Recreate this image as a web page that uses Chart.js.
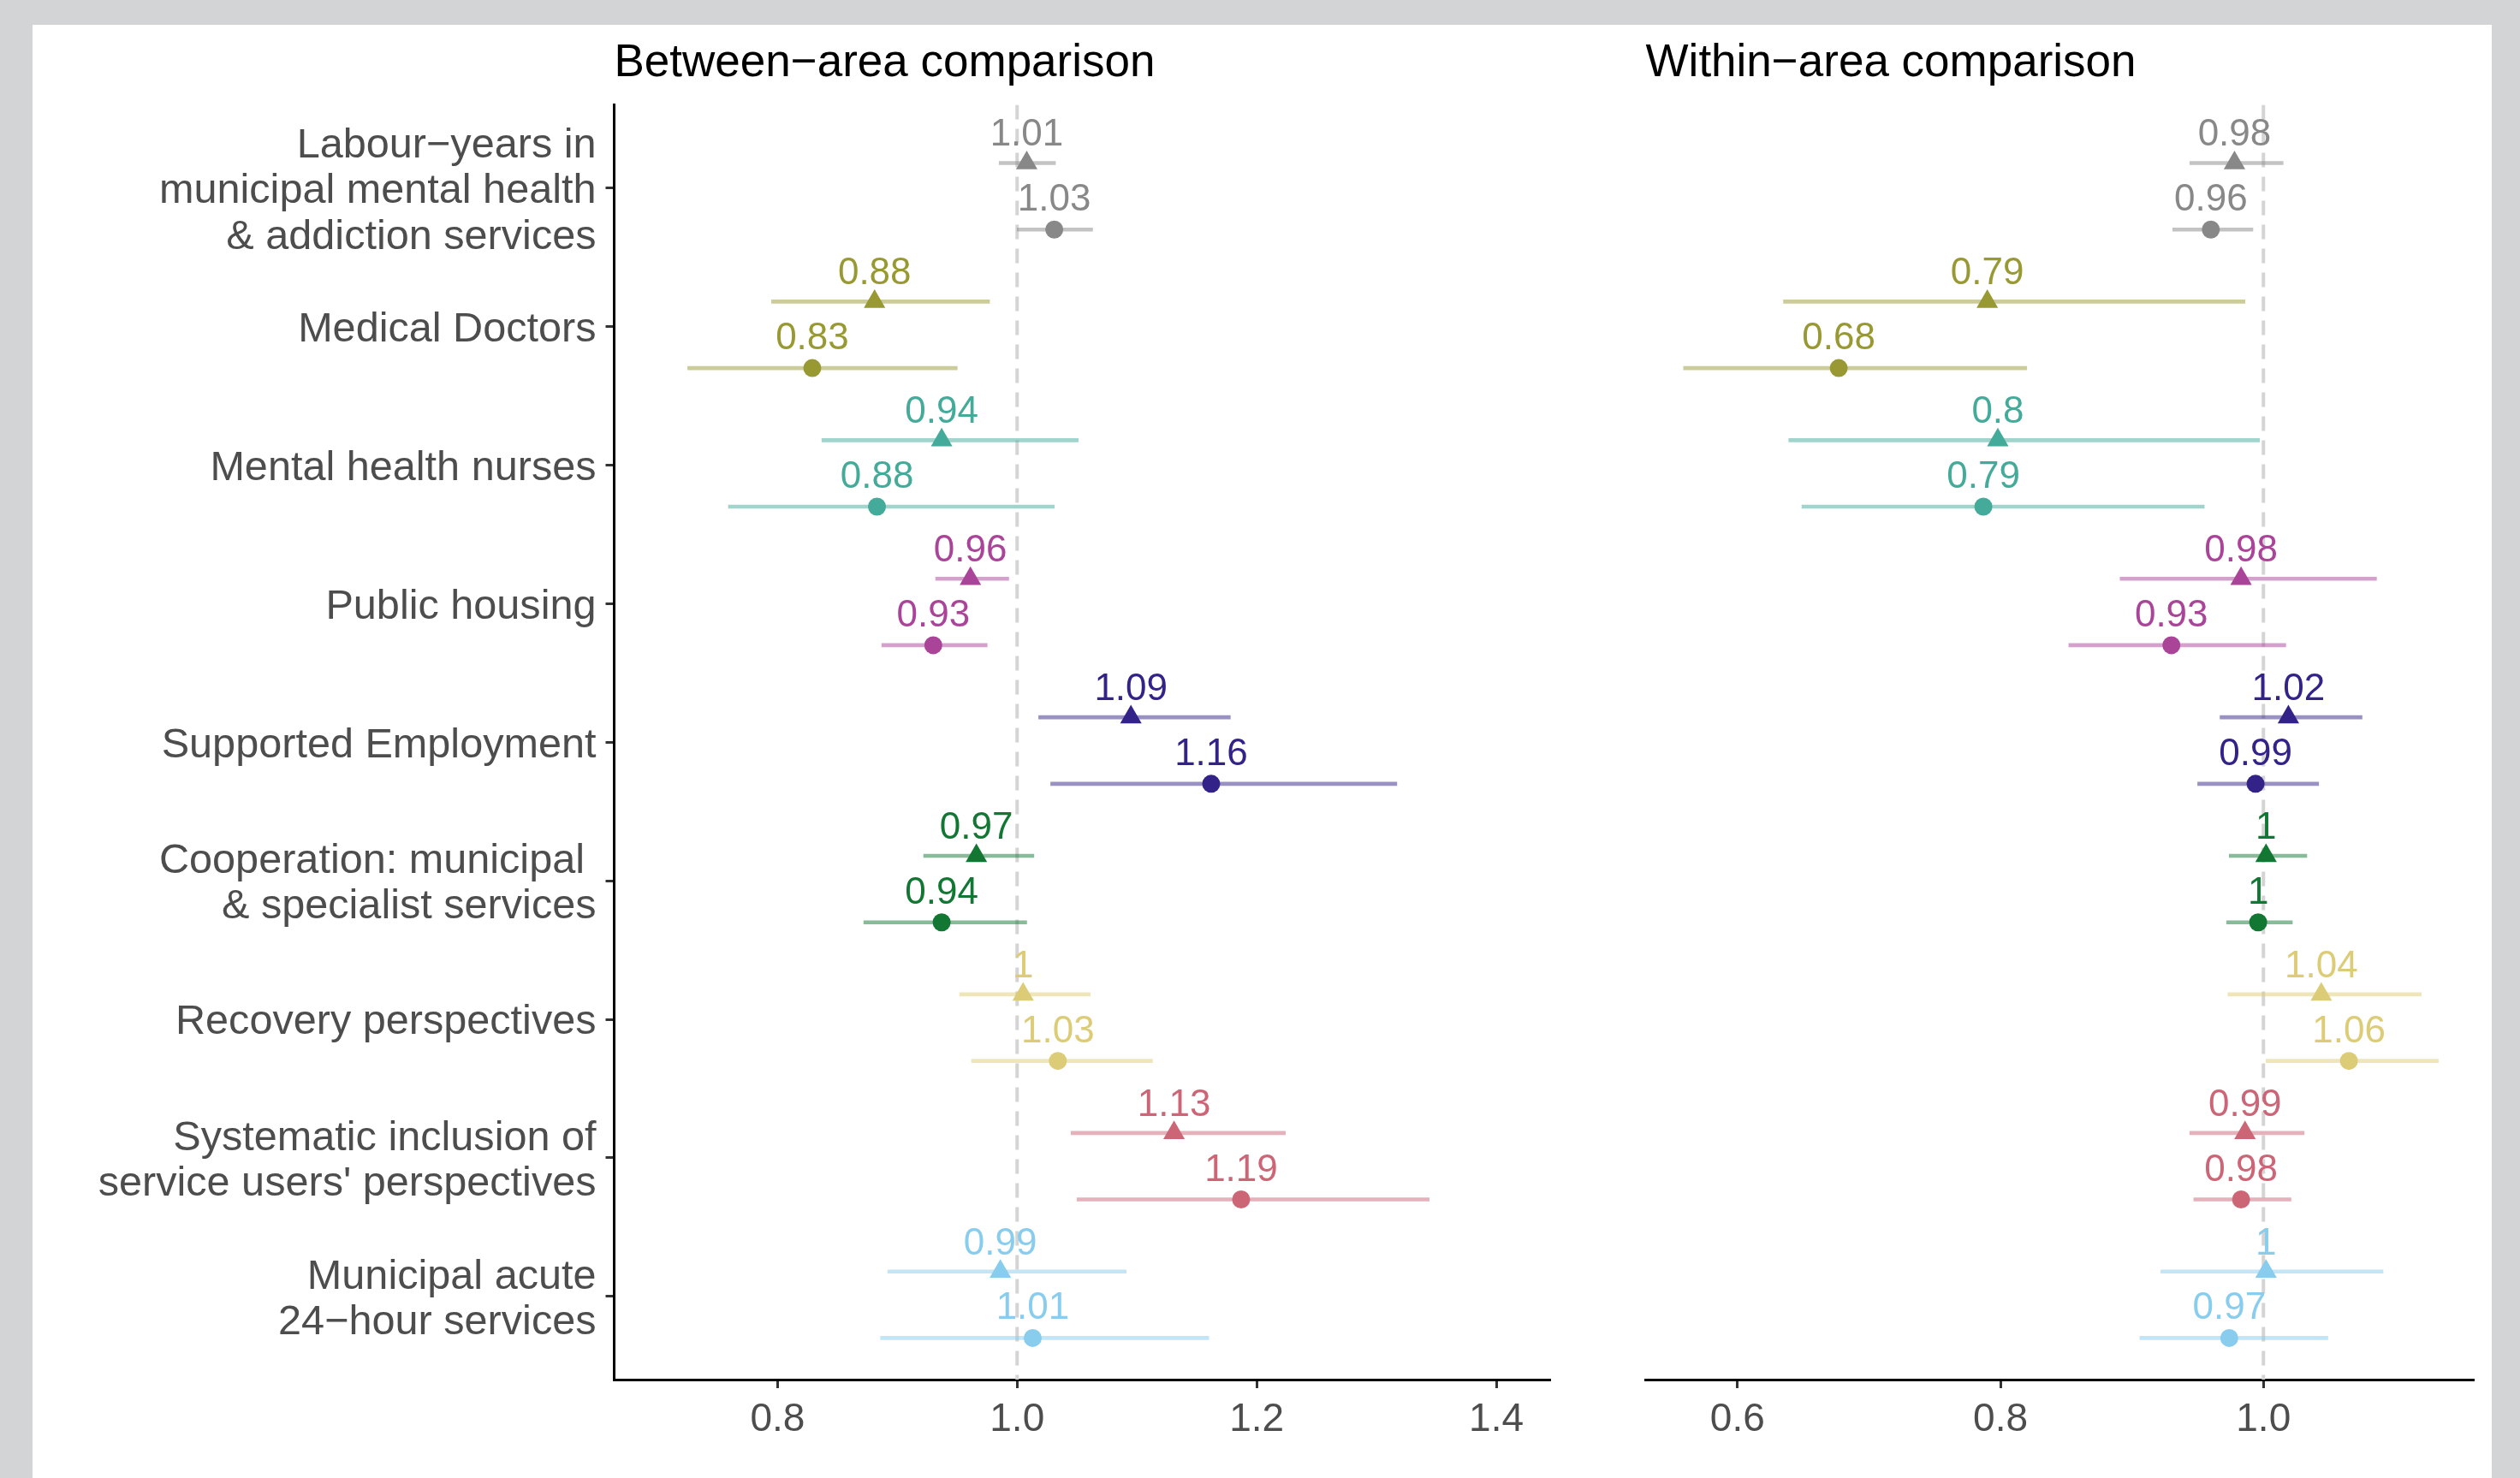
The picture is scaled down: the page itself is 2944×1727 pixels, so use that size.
<!DOCTYPE html>
<html>
<head>
<meta charset="utf-8">
<script src="https://cdn.jsdelivr.net/npm/chart.js@4"></script>
<style>
  html, body { margin: 0; padding: 0; background: #d3d4d6; }
  body { width: 2944px; height: 1727px; position: relative; overflow: hidden; }
  #panel { position: absolute; left: 38px; top: 29px; width: 2873px; height: 1698px; background: #fff; }
  #between { position: absolute; left: 0; top: 0; width: 1832px; height: 1698px; }
  #within { position: absolute; left: 1832px; top: 0; width: 1041px; height: 1698px; }
</style>
</head>
<body>
<div id="panel">
  <div id="between"><canvas id="c1"></canvas></div>
  <div id="within"><canvas id="c2"></canvas></div>
</div>
<script>
// categories, top to bottom
const categories = [
  ['Labour\u2212years in', 'municipal mental health', '& addiction services'],
  'Medical Doctors',
  'Mental health nurses',
  'Public housing',
  'Supported Employment',
  ['Cooperation: municipal ', '& specialist services'],
  'Recovery perspectives',
  ['Systematic inclusion of', "service users' perspectives"],
  ['Municipal acute', '24\u2212hour services']
];
const colors = ['#888888', '#999933', '#44AA99', '#AA4499', '#332288', '#117733', '#DDCC77', '#CC6677', '#88CCEE'];

// between-area comparison: triangle rows
const betweenTri = [1.008, 0.881, 0.937, 0.961, 1.095, 0.966, 1.005, 1.131, 0.986];
const betweenTriLow = [0.985, 0.795, 0.837, 0.932, 1.018, 0.922, 0.952, 1.045, 0.892];
const betweenTriHigh = [1.032, 0.977, 1.051, 0.993, 1.178, 1.014, 1.061, 1.224, 1.091];
const betweenTriLabels = ['1.01', '0.88', '0.94', '0.96', '1.09', '0.97', '1', '1.13', '0.99'];
// between-area comparison: circle rows
const betweenCirc = [1.031, 0.829, 0.883, 0.930, 1.162, 0.937, 1.034, 1.187, 1.013];
const betweenCircLow = [1.000, 0.725, 0.759, 0.887, 1.028, 0.872, 0.962, 1.050, 0.886];
const betweenCircHigh = [1.063, 0.950, 1.031, 0.975, 1.317, 1.008, 1.113, 1.344, 1.160];
const betweenCircLabels = ['1.03', '0.83', '0.88', '0.93', '1.16', '0.94', '1.03', '1.19', '1.01'];

// within-area comparison: triangle rows
const withinTri = [0.978, 0.790, 0.798, 0.983, 1.019, 1.002, 1.044, 0.986, 1.002];
const withinTriLow = [0.944, 0.635, 0.639, 0.891, 0.967, 0.974, 0.973, 0.944, 0.922];
const withinTriHigh = [1.015, 0.986, 0.997, 1.086, 1.075, 1.033, 1.120, 1.031, 1.091];
const withinTriLabels = ['0.98', '0.79', '0.8', '0.98', '1.02', '1', '1.04', '0.99', '1'];
// within-area comparison: circle rows
const withinCirc = [0.960, 0.677, 0.787, 0.930, 0.994, 0.996, 1.065, 0.983, 0.974];
const withinCircLow = [0.931, 0.559, 0.649, 0.852, 0.950, 0.972, 1.002, 0.947, 0.906];
const withinCircHigh = [0.992, 0.820, 0.955, 1.017, 1.042, 1.022, 1.133, 1.021, 1.049];
const withinCircLabels = ['0.96', '0.68', '0.79', '0.93', '0.99', '1', '1.06', '0.98', '0.97'];

const betweenTicks = [0.8, 1.0, 1.2, 1.4];
const withinTicks = [0.6, 0.8, 1.0];
const refValue = 1;

const Y_MIN = -0.6, Y_MAX = 8.6;
const TRI_OFFSET = -0.18, CIRC_OFFSET = 0.30;
const FONT = '"Liberation Sans", Arial, sans-serif';
Chart.defaults.font.family = FONT;

const categoryIndex = categories.map((_, i) => i);
const faded = colors.map(c => c + '80');

const valueLabels = {
  id: 'valueLabels',
  afterDatasetsDraw(chart) {
    const ctx = chart.ctx;
    chart.data.datasets.forEach((ds, di) => {
      if (!ds.valueLabels) return;
      const meta = chart.getDatasetMeta(di);
      ctx.save();
      ctx.font = '44px ' + FONT;
      ctx.textAlign = 'center';
      ctx.textBaseline = 'alphabetic';
      meta.data.forEach((pt, i) => {
        ctx.fillStyle = colors[i];
        ctx.fillText(ds.valueLabels[i], pt.x, pt.y - ds.labelGap);
      });
      ctx.restore();
    });
  }
};

const panelTitle = {
  id: 'panelTitle',
  afterDraw(chart, args, opts) {
    const ctx = chart.ctx;
    ctx.save();
    ctx.font = '53px ' + FONT;
    ctx.fillStyle = '#000';
    ctx.textAlign = 'left';
    ctx.textBaseline = 'alphabetic';
    ctx.fillText(opts.text, chart.chartArea.left, 60);
    ctx.restore();
  }
};

function makePanel(id, p) {
  const ciData = (low, high, off) => categoryIndex.map(i => ({ x: [low[i], high[i]], y: i + off }));
  const ptData = (vals, off) => categoryIndex.map(i => ({ x: vals[i], y: i + off }));
  const axisGrid = { offset: false, drawOnChartArea: false, drawTicks: true, tickLength: 10, tickColor: '#333333', tickWidth: 3 };

  return new Chart(document.getElementById(id), {
    type: 'scatter',
    data: {
      datasets: [
        {
          type: 'line',
          data: [{ x: refValue, y: Y_MIN }, { x: refValue, y: Y_MAX }],
          borderColor: '#d4d4d4', borderWidth: 4, borderDash: [17, 11],
          pointRadius: 0, order: 3
        },
        {
          type: 'bar', indexAxis: 'y', grouped: false,
          data: ciData(p.triLow, p.triHigh, TRI_OFFSET),
          backgroundColor: faded, borderWidth: 0, barThickness: 4, order: 2
        },
        {
          type: 'bar', indexAxis: 'y', grouped: false,
          data: ciData(p.circLow, p.circHigh, CIRC_OFFSET),
          backgroundColor: faded, borderWidth: 0, barThickness: 4, order: 2
        },
        {
          type: 'scatter',
          data: ptData(p.tri, TRI_OFFSET),
          pointStyle: 'triangle', pointRadius: 14.5, pointBorderWidth: 0,
          pointBackgroundColor: colors, pointBorderColor: colors,
          valueLabels: p.triLabels, labelGap: 20, order: 1
        },
        {
          type: 'scatter',
          data: ptData(p.circ, CIRC_OFFSET),
          pointStyle: 'circle', pointRadius: 10.5, pointBorderWidth: 0,
          pointBackgroundColor: colors, pointBorderColor: colors,
          valueLabels: p.circLabels, labelGap: 22, order: 1
        }
      ]
    },
    options: {
      responsive: true,
      maintainAspectRatio: false,
      animation: false,
      events: [],
      layout: { padding: p.padding },
      plugins: {
        legend: { display: false },
        tooltip: { enabled: false },
        panelTitle: { text: p.title }
      },
      scales: {
        x: {
          type: 'linear', min: p.xMin, max: p.xMax, offset: false,
          afterBuildTicks: s => { s.ticks = p.ticks.map(v => ({ value: v })); },
          afterFit: s => { s.height = 115; },
          border: { display: true, color: '#000', width: 3 },
          grid: axisGrid,
          ticks: {
            color: '#4d4d4d', font: { size: 46 }, padding: 10,
            maxRotation: 0, autoSkip: false,
            callback: v => v.toFixed(1)
          }
        },
        y: {
          type: 'linear', reverse: true, min: Y_MIN, max: Y_MAX, offset: false,
          display: p.showY,
          afterBuildTicks: s => { s.ticks = categoryIndex.map(v => ({ value: v })); },
          afterFit: s => { s.width = p.yWidth; },
          border: { display: true, color: '#000', width: 3 },
          grid: axisGrid,
          ticks: {
            color: '#4d4d4d', font: { size: 48.6, lineHeight: 1.1 }, padding: 11,
            labelOffset: 4, autoSkip: false,
            callback: v => categories[v]
          }
        }
      }
    },
    plugins: [valueLabels, panelTitle]
  });
}

makePanel('c1', {
  title: 'Between\u2212area comparison',
  tri: betweenTri, triLow: betweenTriLow, triHigh: betweenTriHigh, triLabels: betweenTriLabels,
  circ: betweenCirc, circLow: betweenCircLow, circHigh: betweenCircHigh, circLabels: betweenCircLabels,
  ticks: betweenTicks, xMin: 0.6636, xMax: 1.4450,
  showY: true, yWidth: 679.5,
  padding: { top: 93.5, right: 59, left: 0, bottom: 0 }
});

makePanel('c2', {
  title: 'Within\u2212area comparison',
  tri: withinTri, triLow: withinTriLow, triHigh: withinTriHigh, triLabels: withinTriLabels,
  circ: withinCirc, circLow: withinCircLow, circHigh: withinCircHigh, circLabels: withinCircLabels,
  ticks: withinTicks, xMin: 0.5302, xMax: 1.1605,
  showY: false, yWidth: 0,
  padding: { top: 93.5, right: 20.2, left: 52.6, bottom: 0 }
});
</script>
</body>
</html>
